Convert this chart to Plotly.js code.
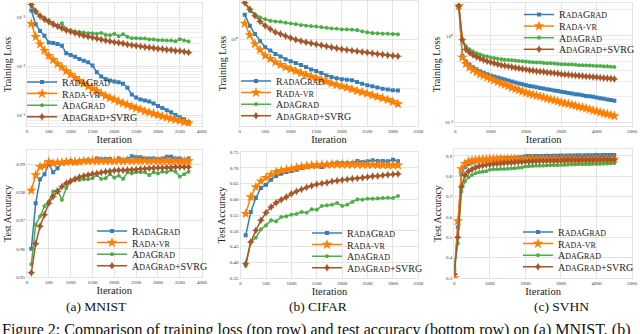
<!DOCTYPE html>
<html><head><meta charset="utf-8">
<script src="https://cdn.plot.ly/plotly-3.0.1.min.js"></script>
<style>html,body{margin:0;padding:0;background:#fff;} #chart{width:640px;height:334px;}</style>
</head><body><div id="chart"></div>
<script>
// ---------- data ----------
const mnistIter = [100,200,300,400,500,600,700,800,900,1000,1100,1200,1300,1400,1500,1600,1700,1800,1900,2000,2100,2200,2300,2400,2500,2600,2700,2800,2900,3000,3100,3200,3300,3400,3500,3600,3700];
const mnistLossRada = [0.1406,0.0733,0.0538,0.0427,0.0313,0.0303,0.0289,0.0268,0.0188,0.0173,0.0160,0.0144,0.0133,0.0123,0.0106,0.00775,0.00633,0.00559,0.00526,0.00501,0.00479,0.00450,0.00373,0.00270,0.00234,0.00214,0.00204,0.00195,0.00177,0.00157,0.00143,0.00130,0.00117,0.00103,0.000925,0.000843,0.000744];
const mnistLossRadaVR = [0.0757,0.0407,0.0289,0.0212,0.0168,0.0138,0.0114,0.00977,0.00811,0.00695,0.00594,0.00517,0.00450,0.00397,0.00356,0.00320,0.00282,0.00253,0.00231,0.00214,0.00195,0.00180,0.00167,0.00154,0.00143,0.00134,0.00124,0.00117,0.00110,0.00103,0.000970,0.000925,0.000869,0.000830,0.000792,0.000744,0.000700];
const mnistLossAda = [0.172,0.126,0.113,0.100,0.0883,0.0780,0.0689,0.0768,0.0581,0.0554,0.0521,0.0513,0.0497,0.0483,0.0483,0.0468,0.0490,0.0447,0.0440,0.0468,0.0420,0.0461,0.0407,0.0382,0.0382,0.0376,0.0376,0.0360,0.0360,0.0348,0.0348,0.0343,0.0343,0.0332,0.0365,0.0343,0.0327];
const mnistLossSvrg = [0.186,0.136,0.108,0.0925,0.0830,0.0733,0.0668,0.0609,0.0554,0.0521,0.0490,0.0461,0.0433,0.0413,0.0394,0.0376,0.0360,0.0343,0.0332,0.0318,0.0308,0.0298,0.0285,0.0276,0.0268,0.0260,0.0252,0.0248,0.0240,0.0233,0.0229,0.0222,0.0219,0.0212,0.0209,0.0202,0.0196];
const mnistAccRada = [0.9600,0.9762,0.9847,0.9865,0.9901,0.9872,0.9886,0.9904,0.9907,0.9912,0.9907,0.9912,0.9913,0.9915,0.9913,0.9921,0.9918,0.9919,0.9919,0.9913,0.9921,0.9915,0.9919,0.9929,0.9925,0.9925,0.9921,0.9921,0.9921,0.9918,0.9921,0.9927,0.9927,0.9921,0.9921,0.9915,0.9921];
const mnistAccRadaVR = [0.9807,0.9862,0.9892,0.9895,0.9909,0.9904,0.9907,0.9907,0.9909,0.9909,0.9909,0.9909,0.9912,0.9912,0.9913,0.9912,0.9913,0.9912,0.9913,0.9912,0.9913,0.9912,0.9913,0.9912,0.9913,0.9912,0.9913,0.9912,0.9913,0.9912,0.9912,0.9913,0.9912,0.9913,0.9912,0.9912,0.9912];
const mnistAccAda = [0.9545,0.9686,0.9715,0.9751,0.9768,0.9804,0.9809,0.9774,0.9815,0.9839,0.9845,0.9845,0.9847,0.9847,0.9851,0.9862,0.9848,0.9851,0.9865,0.9853,0.9860,0.9848,0.9872,0.9868,0.9872,0.9872,0.9872,0.9862,0.9872,0.9868,0.9874,0.9872,0.9880,0.9874,0.9856,0.9865,0.9874];
const mnistAccSvrg = [0.9515,0.9618,0.9680,0.9721,0.9762,0.9786,0.9804,0.9821,0.9833,0.9841,0.9848,0.9854,0.9859,0.9862,0.9866,0.9868,0.9871,0.9874,0.9876,0.9878,0.9879,0.9879,0.9880,0.9881,0.9882,0.9884,0.9885,0.9886,0.9887,0.9888,0.9888,0.9889,0.9889,0.9891,0.9891,0.9891,0.9891];

const cifarIter = [100,200,300,400,500,600,700,800,900,1000,1100,1200,1300,1400,1500,1600,1700,1800,1900,2000,2100,2200,2300,2400,2500,2600,2700,2800,2900,3000,3100];
const cifarLossRada = [1.295,1.156,1.060,0.983,0.924,0.892,0.862,0.839,0.816,0.799,0.783,0.767,0.751,0.733,0.721,0.706,0.689,0.677,0.668,0.661,0.659,0.655,0.643,0.632,0.621,0.615,0.607,0.600,0.594,0.590,0.588];
const cifarLossRadaVR = [1.184,1.049,0.956,0.899,0.847,0.819,0.791,0.769,0.751,0.736,0.721,0.706,0.694,0.682,0.670,0.659,0.646,0.634,0.624,0.615,0.607,0.596,0.586,0.578,0.570,0.560,0.551,0.543,0.534,0.523,0.511];
const cifarLossAda = [1.471,1.350,1.304,1.260,1.238,1.217,1.209,1.205,1.192,1.184,1.176,1.164,1.156,1.152,1.148,1.140,1.132,1.124,1.120,1.113,1.113,1.109,1.105,1.090,1.079,1.071,1.068,1.064,1.064,1.060,1.057];
const cifarLossSvrg = [1.471,1.373,1.282,1.209,1.156,1.117,1.082,1.060,1.039,1.017,1.000,0.986,0.973,0.963,0.953,0.943,0.933,0.924,0.914,0.905,0.899,0.892,0.886,0.880,0.874,0.868,0.862,0.856,0.850,0.845,0.842];
const cifarAccRada = [0.4854,0.5595,0.6040,0.6357,0.6463,0.6622,0.6738,0.6812,0.6865,0.6897,0.6939,0.6992,0.7024,0.7045,0.7045,0.7024,0.7098,0.7130,0.7161,0.7151,0.7151,0.7151,0.7214,0.7183,0.7204,0.7235,0.7214,0.7214,0.7204,0.7257,0.7204];
const cifarAccRadaVR = [0.5542,0.6071,0.6389,0.6569,0.6685,0.6780,0.6865,0.6907,0.6939,0.6971,0.7003,0.7034,0.7056,0.7077,0.7087,0.7098,0.7098,0.7108,0.7108,0.7108,0.7108,0.7108,0.7108,0.7098,0.7098,0.7098,0.7087,0.7087,0.7077,0.7077,0.7077];
const cifarAccAda = [0.3881,0.4643,0.4780,0.5045,0.5172,0.5331,0.5299,0.5437,0.5458,0.5511,0.5532,0.5595,0.5574,0.5680,0.5669,0.5786,0.5807,0.5828,0.5881,0.5786,0.5828,0.5913,0.5997,0.5987,0.6019,0.6019,0.6029,0.6040,0.6050,0.6040,0.6103];
const cifarAccSvrg = [0.3955,0.4643,0.5013,0.5331,0.5574,0.5754,0.5892,0.5987,0.6071,0.6177,0.6251,0.6315,0.6378,0.6431,0.6474,0.6505,0.6526,0.6569,0.6590,0.6611,0.6632,0.6653,0.6664,0.6685,0.6706,0.6728,0.6738,0.6759,0.6780,0.6791,0.6802];

const svhnLossIter = [100,200,300,400,500,600,700,800,900,1000,1100,1200,1300,1400,1500,1600,1700,1800,1900,2000,2100,2200,2300,2400,2500,2600,2700,2800,2900,3000,3100,3200,3300,3400,3500,3600,3700,3800,3900,4000,4100,4200,4300,4400,4500];
const svhnLossRada = [2.21,0.589,0.505,0.464,0.434,0.412,0.391,0.375,0.362,0.350,0.339,0.330,0.322,0.314,0.306,0.298,0.290,0.283,0.276,0.269,0.264,0.260,0.255,0.251,0.247,0.243,0.239,0.235,0.231,0.227,0.223,0.219,0.216,0.212,0.210,0.206,0.203,0.201,0.198,0.195,0.191,0.188,0.185,0.182,0.179];
const svhnLossRadaVR = [2.21,0.565,0.476,0.434,0.405,0.381,0.362,0.347,0.333,0.319,0.306,0.295,0.283,0.274,0.264,0.253,0.245,0.237,0.229,0.221,0.216,0.210,0.205,0.200,0.195,0.190,0.185,0.180,0.176,0.171,0.167,0.164,0.160,0.156,0.152,0.149,0.146,0.142,0.138,0.135,0.131,0.128,0.125,0.122,0.119];
const svhnLossAda = [2.21,0.918,0.761,0.699,0.659,0.631,0.610,0.589,0.579,0.565,0.555,0.546,0.537,0.532,0.528,0.523,0.519,0.514,0.510,0.505,0.501,0.497,0.493,0.493,0.489,0.485,0.485,0.480,0.476,0.472,0.472,0.468,0.468,0.464,0.460,0.460,0.456,0.456,0.453,0.449,0.449,0.445,0.445,0.442,0.438];
const svhnLossSvrg = [2.21,0.903,0.699,0.642,0.604,0.574,0.551,0.528,0.510,0.497,0.485,0.472,0.460,0.453,0.445,0.438,0.430,0.423,0.416,0.409,0.402,0.398,0.391,0.388,0.385,0.378,0.375,0.372,0.369,0.362,0.359,0.356,0.353,0.350,0.347,0.344,0.341,0.339,0.336,0.333,0.330,0.327,0.325,0.322,0.319];
const svhnAccIter = [0,100,200,300,400,500,600,700,800,900,1000,1100,1200,1300,1400,1500,1600,1700,1800,1900,2000,2100,2200,2300,2400,2500,2600,2700,2800,2900,3000,3100,3200,3300,3400,3500,3600,3700,3800,3900,4000,4100,4200,4300,4400,4500];
const svhnAccRada = [0.34,0.55,0.81,0.845,0.86,0.868,0.874,0.878,0.881,0.883,0.885,0.886,0.887,0.888,0.889,0.890,0.890,0.891,0.892,0.893,0.898,0.899,0.898,0.899,0.900,0.900,0.901,0.900,0.901,0.901,0.902,0.901,0.902,0.902,0.902,0.903,0.902,0.903,0.903,0.903,0.904,0.903,0.904,0.904,0.905,0.905];
const svhnAccRadaVR = [0.30,0.58,0.836,0.862,0.872,0.877,0.880,0.882,0.883,0.884,0.885,0.885,0.886,0.885,0.884,0.885,0.886,0.885,0.884,0.885,0.885,0.886,0.885,0.884,0.885,0.885,0.884,0.885,0.886,0.884,0.885,0.884,0.885,0.884,0.885,0.884,0.884,0.885,0.884,0.884,0.885,0.884,0.884,0.885,0.884,0.884];
const svhnAccAda = [0.36,0.47,0.725,0.775,0.795,0.806,0.815,0.820,0.823,0.825,0.832,0.835,0.835,0.836,0.836,0.837,0.838,0.840,0.842,0.843,0.848,0.850,0.851,0.852,0.852,0.852,0.853,0.854,0.855,0.855,0.856,0.856,0.857,0.858,0.858,0.859,0.859,0.860,0.860,0.861,0.861,0.861,0.862,0.862,0.863,0.864];
const svhnAccSvrg = [0.32,0.50,0.749,0.805,0.825,0.835,0.843,0.849,0.853,0.856,0.858,0.860,0.862,0.863,0.865,0.866,0.867,0.869,0.870,0.871,0.872,0.873,0.874,0.875,0.876,0.877,0.877,0.878,0.878,0.879,0.879,0.879,0.880,0.880,0.880,0.880,0.881,0.881,0.881,0.881,0.881,0.882,0.882,0.882,0.882,0.882];

const captions = ['(a) MNIST', '(b) CIFAR', '(c) SVHN'];
const figureCaption = 'Figure 2: Comparison of training loss (top row) and test accuracy (bottom row) on (a) MNIST, (b)';

// ---------- styling ----------
const FONT = 'Liberation Serif, Times New Roman, serif';
const COLORS = ['#377eb8', '#ff7f00', '#4daf4a', '#a65628'];
const SC = s => '<span style="font-size:8px">' + s + '</span>';
const seriesNames = ['R' + SC('ADA') + 'G' + SC('RAD'), 'R' + SC('ADA-VR'), 'A' + SC('DA') + 'G' + SC('RAD'), 'A' + SC('DA') + 'G' + SC('RAD') + '+SVRG'];
const markers = [{symbol:'square', size:4}, {symbol:'star', size:8}, {symbol:'pentagon', size:4.5}, {symbol:'star-diamond', size:6}];

const W = 640, H = 334;
const px = v => v / W, py = v => 1 - v / H;

const panels = [
  {x: mnistIter, ys: [mnistLossRada, mnistLossRadaVR, mnistLossAda, mnistLossSvrg], dom: [27, 202, 3, 126], xr: [0, 4000], dt: 500,
   ytype: 'log', yr: [-3.21, -0.70], tv: [0.1, 0.01, 0.001], tt: ['10⁻¹', '10⁻²', '10⁻³'], ytitle: 'Training Loss', leg: [22, 67.5]},
  {x: cifarIter, ys: [cifarLossRada, cifarLossRadaVR, cifarLossAda, cifarLossSvrg], dom: [240, 419, 1, 126], xr: [0, 3500], dt: 500,
   ytype: 'log', yr: [-0.391, 0.175], tv: [1], tt: ['10⁰'], ytitle: 'Training Loss', leg: [236, 66.5]},
  {x: svhnLossIter, ys: [svhnLossRada, svhnLossRadaVR, svhnLossAda, svhnLossSvrg], dom: [456, 633, 3, 126], xr: [0, 5000], dt: 1000,
   ytype: 'log', yr: [-1.04, 0.38], tv: [1, 0.1], tt: ['10⁰', '10⁻¹'], ytitle: 'Training Loss', leg: [520, 0]},
  {x: mnistIter, ys: [mnistAccRada, mnistAccRadaVR, mnistAccAda, mnistAccSvrg], dom: [27, 202, 150, 277], xr: [0, 4000], dt: 500,
   ytype: 'linear', yr: [0.95, 0.9951], tv: [0.95, 0.96, 0.97, 0.98, 0.99], tt: ['0.95', '0.96', '0.97', '0.98', '0.99'], ytitle: 'Test Accuracy', leg: [92, 216.5]},
  {x: cifarIter, ys: [cifarAccRada, cifarAccRadaVR, cifarAccAda, cifarAccSvrg], dom: [241, 419, 152, 278], xr: [0, 3500], dt: 500,
   ytype: 'linear', yr: [0.35, 0.75], tv: [0.35, 0.40, 0.45, 0.50, 0.55, 0.60, 0.65, 0.70, 0.75], tt: ['0.35','0.40','0.45','0.50','0.55','0.60','0.65','0.70','0.75'], ytitle: 'Test Accuracy', leg: [307, 218.5]},
  {x: svhnAccIter, ys: [svhnAccRada, svhnAccRadaVR, svhnAccAda, svhnAccSvrg], dom: [455, 633, 149, 278], xr: [0, 5000], dt: 1000,
   ytype: 'linear', yr: [0.3, 0.934], tv: [0.3, 0.4, 0.5, 0.6, 0.7, 0.8, 0.9], tt: ['0.3','0.4','0.5','0.6','0.7','0.8','0.9'], ytitle: 'Test Accuracy', leg: [518, 217.5]}
];

const data = [];
const layout = {
  width: W, height: H, margin: {l: 0, r: 0, t: 0, b: 0},
  paper_bgcolor: '#fff', plot_bgcolor: '#fff',
  font: {family: FONT, color: '#222'},
  showlegend: true,
  annotations: [],
};

const GRID = '#e4e4e4';
panels.forEach((p, i) => {
  const n = i === 0 ? '' : String(i + 1);
  const legId = 'legend' + n;
  p.ys.forEach((y, s) => {
    data.push({
      type: 'scatter', mode: 'lines+markers', x: p.x, y: y,
      xaxis: 'x' + n, yaxis: 'y' + n, legend: legId,
      name: seriesNames[s],
      line: {color: COLORS[s], width: 1.5},
      marker: {color: COLORS[s], symbol: markers[s].symbol, size: markers[s].size, line: {width: 0}},
    });
  });
  layout['xaxis' + n] = {
    domain: [px(p.dom[0]), px(p.dom[1])], range: p.xr, dtick: p.dt, tick0: 0, anchor: 'y' + n,
    showgrid: true, gridcolor: GRID, zeroline: false, showline: true, linecolor: GRID, mirror: true,
    ticks: '', tickfont: {size: 5, color: '#333', family: FONT}, automargin: false,
    title: {text: 'Iteration', font: {size: 10.5, family: FONT, color: '#222'}, standoff: 1},
  };
  const yax = {
    domain: [py(p.dom[3]), py(p.dom[2])], type: p.ytype, range: p.yr, anchor: 'x' + n,
    tickmode: 'array', tickvals: p.tv, ticktext: p.tt,
    showgrid: true, gridcolor: GRID, zeroline: false, showline: true, linecolor: GRID, mirror: true,
    ticks: '', tickfont: {size: 5, color: '#333', family: FONT}, automargin: false,
    title: {text: p.ytitle, font: {size: 10, family: FONT, color: '#222'}, standoff: 2},
  };
  if (p.ytype === 'log') {
    yax.minor = {showgrid: true, gridcolor: '#eeeeee', dtick: 'D1', ticks: ''};
  }
  layout['yaxis' + n] = yax;
  layout[legId] = {
    x: px(p.leg[0]), y: Math.min(1, py(p.leg[1])), xanchor: 'left', yanchor: 'top',
    bgcolor: 'rgba(255,255,255,0)', borderwidth: 0, itemwidth: 30,
    font: {family: FONT, size: 10, color: '#222'},
  };
});

captions.forEach((c, i) => {
  layout.annotations.push({text: c, xref: 'paper', yref: 'paper', x: px([97, 318, 562][i]), y: py(306),
    xanchor: 'center', yanchor: 'middle', showarrow: false, font: {size: 13.5, family: FONT, color: '#111'}});
});
layout.annotations.push({text: figureCaption, xref: 'paper', yref: 'paper', x: 0, y: py(330),
  xanchor: 'left', yanchor: 'middle', showarrow: false, font: {size: 16, family: FONT, color: '#111'}});

Plotly.newPlot('chart', data, layout, {staticPlot: true, displayModeBar: false}).then(gd => {
  // compact legend rows to the tighter spacing of the reference
  const STEP = 11.6;
  ['legend', 'legend2', 'legend3', 'legend4', 'legend5', 'legend6'].forEach(id => {
    const g = gd.querySelector('g.' + id);
    if (!g) return;
    let y0 = null;
    g.querySelectorAll('g.traces').forEach((it, i) => {
      const m = /translate\(\s*([-\d.e]+)[ ,]+([-\d.e]+)\s*\)/.exec(it.getAttribute('transform') || '');
      if (!m) return;
      if (y0 === null) y0 = parseFloat(m[2]);
      it.setAttribute('transform', 'translate(' + m[1] + ',' + (y0 + i * STEP) + ')');
    });
  });
});
</script>
</body></html>
